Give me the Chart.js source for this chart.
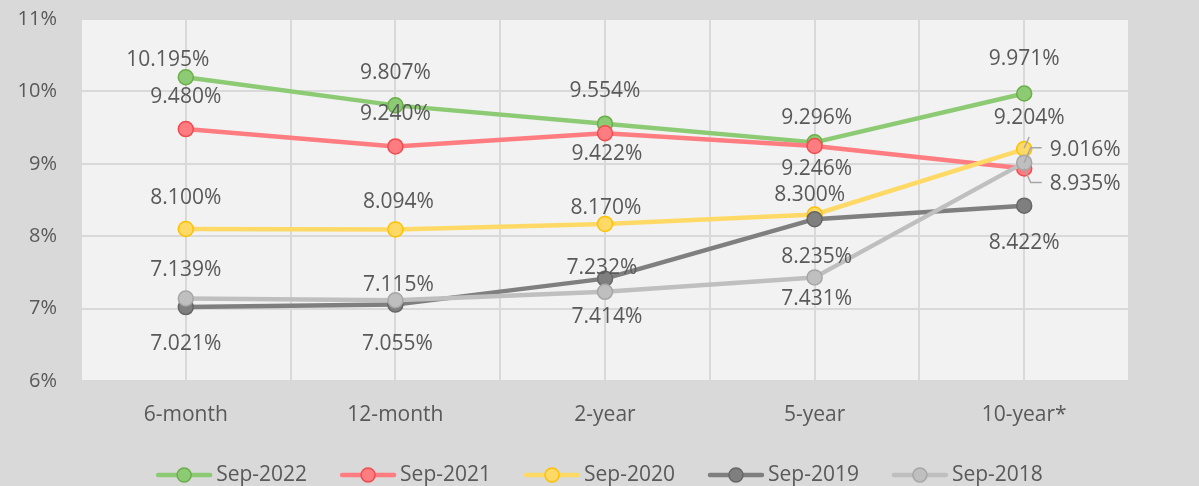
<!DOCTYPE html>
<html>
<head>
<meta charset="utf-8">
<script src="https://cdn.jsdelivr.net/npm/chart.js@4"></script>
<style>
  html, body { margin: 0; padding: 0; background: #d9d9d9; }
  #wrap { width: 1199px; height: 486px; }
</style>
</head>
<body>
<div id="wrap"><canvas id="myChartRates"></canvas></div>
<script>
// categories on the x axis
const categories = ['6-month', '12-month', '2-year', '5-year', '10-year*'];

// series values, in %
const sep2022 = [10.195, 9.807, 9.554, 9.296, 9.971];
const sep2021 = [9.480, 9.240, 9.422, 9.246, 8.935];
const sep2020 = [8.100, 8.094, 8.170, 8.300, 9.204];
const sep2019 = [7.021, 7.055, 7.414, 8.235, 8.422];
const sep2018 = [7.139, 7.115, 7.232, 7.431, 9.016];

// y axis range / step, in %
const yMin = 6;
const yMax = 11;
const yStep = 1;

const textColor = '#595959';
const fontFamily = '"Open Sans", "DejaVu Sans", sans-serif';

// where each data label sits, relative to its point [dx, dy] (Excel moved some by hand)
const labelShift = [
  [[-18, -18], [0, -33], [0, -34], [2, -25], [0, -35]],
  [[0, -33], [0, -33], [2, 20], [2, 22], [61, 15]],
  [[0, -32], [3, -28], [1, -17], [-5, -20], [5, -32]],
  [[0, 36], [2, 38], [2, 37], [2, 37], [0, 36]],
  [[0, -30], [3, -16], [-3, -25], [2, 21], [61, -14]]
];
// labels that have a leader line back to the point
const leaderLabels = ['1-4', '2-4', '4-4'];

function toPoints(values) {
  return values.map((v, i) => ({ x: i, y: v }));
}

function makeSeries(label, values, line, edge, order) {
  return {
    label: label,
    data: toPoints(values),
    borderColor: line,
    backgroundColor: line,
    borderWidth: 4.5,
    borderCapStyle: 'round',
    borderJoinStyle: 'round',
    pointRadius: 7.5,
    pointHoverRadius: 7.5,
    pointBackgroundColor: line,
    pointBorderColor: edge,
    pointBorderWidth: 1.5,
    tension: 0,
    order: order
  };
}

// plot area fill
const plotFill = {
  id: 'plotFill',
  beforeDraw(chart) {
    const a = chart.chartArea;
    const ctx = chart.ctx;
    ctx.save();
    ctx.fillStyle = '#f2f2f2';
    ctx.fillRect(a.left, a.top, a.right - a.left, a.bottom - a.top);
    ctx.restore();
  }
};

// value labels next to each point
const valueLabels = {
  id: 'valueLabels',
  afterDatasetsDraw(chart) {
    const ctx = chart.ctx;
    ctx.save();
    ctx.font = '21px ' + fontFamily;
    ctx.fillStyle = textColor;
    ctx.textAlign = 'center';
    ctx.textBaseline = 'middle';
    chart.data.datasets.forEach((ds, i) => {
      const meta = chart.getDatasetMeta(i);
      meta.data.forEach((pt, j) => {
        const shift = labelShift[i][j];
        const cx = pt.x + shift[0];
        const cy = pt.y + shift[1] + 1;
        const text = ds.data[j].y.toFixed(3) + '%';
        if (leaderLabels.includes(i + '-' + j)) {
          const w = ctx.measureText(text).width;
          ctx.strokeStyle = '#a6a6a6';
          ctx.lineWidth = 1.5;
          ctx.beginPath();
          if (Math.abs(shift[0]) > 30) {
            const left = cx - w / 2;
            ctx.moveTo(left - 8, cy - 2);
            ctx.lineTo(left - 19, cy - 2);
            ctx.lineTo(pt.x, pt.y);
          } else {
            ctx.moveTo(cx, cy + 19);
            ctx.lineTo(pt.x, pt.y - 1);
          }
          ctx.stroke();
        }
        ctx.fillText(text, cx, cy);
      });
    });
    ctx.restore();
  }
};

// Excel style legend: line + marker, then the name
const lineLegend = {
  id: 'lineLegend',
  afterDraw(chart) {
    const ctx = chart.ctx;
    ctx.save();
    ctx.font = '21px ' + fontFamily;
    const lineW = 56;
    const gapText = 4;
    const gapItem = 33;
    const items = chart.data.datasets.map(ds => ({
      ds: ds,
      w: lineW + gapText + ctx.measureText(ds.label).width
    }));
    const total = items.reduce((s, it) => s + it.w, 0) + gapItem * (items.length - 1);
    let x = (chart.width - total) / 2;
    const y = chart.height - 11;
    items.forEach(it => {
      const ds = it.ds;
      ctx.strokeStyle = ds.borderColor;
      ctx.lineWidth = 4.5;
      ctx.lineCap = 'round';
      ctx.beginPath();
      ctx.moveTo(x + 2, y);
      ctx.lineTo(x + lineW - 2, y);
      ctx.stroke();
      ctx.beginPath();
      ctx.arc(x + lineW / 2, y, 7, 0, Math.PI * 2);
      ctx.fillStyle = ds.pointBackgroundColor;
      ctx.fill();
      ctx.lineWidth = 1.5;
      ctx.strokeStyle = ds.pointBorderColor;
      ctx.stroke();
      ctx.fillStyle = textColor;
      ctx.textAlign = 'left';
      ctx.textBaseline = 'middle';
      ctx.fillText(ds.label, x + lineW + gapText, y);
      x += it.w + gapItem;
    });
    ctx.restore();
  }
};

const ctx = document.getElementById('myChartRates').getContext('2d');
const chart = new Chart(ctx, {
  type: 'line',
  data: {
    datasets: [
      makeSeries('Sep-2022', sep2022, '#8ccb74', '#6aae48', 5),
      makeSeries('Sep-2021', sep2021, '#ff7c80', '#f04b4f', 4),
      makeSeries('Sep-2020', sep2020, '#ffd966', '#ffc000', 3),
      makeSeries('Sep-2019', sep2019, '#7f7f7f', '#666666', 2),
      makeSeries('Sep-2018', sep2018, '#bfbfbf', '#a6a6a6', 1)
    ]
  },
  options: {
    responsive: true,
    maintainAspectRatio: false,
    animation: false,
    layout: { padding: { top: 19, right: 70, bottom: 0, left: 0 } },
    plugins: {
      legend: { display: false },
      tooltip: { enabled: false }
    },
    scales: {
      x: {
        type: 'linear',
        min: -0.5,
        max: categories.length - 0.5,
        afterFit(scale) { scale.height = 105; },
        border: { display: false },
        grid: { color: '#d9d9d9', lineWidth: 2, drawTicks: false },
        ticks: {
          stepSize: 0.5,
          autoSkip: false,
          maxRotation: 0,
          padding: 21,
          color: textColor,
          font: { family: fontFamily, size: 21 },
          callback: (v) => Number.isInteger(v) ? categories[v] : ''
        }
      },
      y: {
        min: yMin,
        max: yMax,
        afterFit(scale) {
          scale.width = 81;
          // tick padding would otherwise push the plot top down
          scale.paddingTop = 0;
          scale.paddingBottom = 0;
        },
        border: { display: false },
        grid: { color: '#d9d9d9', lineWidth: 2, drawTicks: false },
        ticks: {
          stepSize: yStep,
          padding: 24,
          color: textColor,
          font: { family: fontFamily, size: 20 },
          callback: (v) => v + '%'
        }
      }
    }
  },
  plugins: [plotFill, valueLabels, lineLegend]
});
</script>
</body>
</html>
